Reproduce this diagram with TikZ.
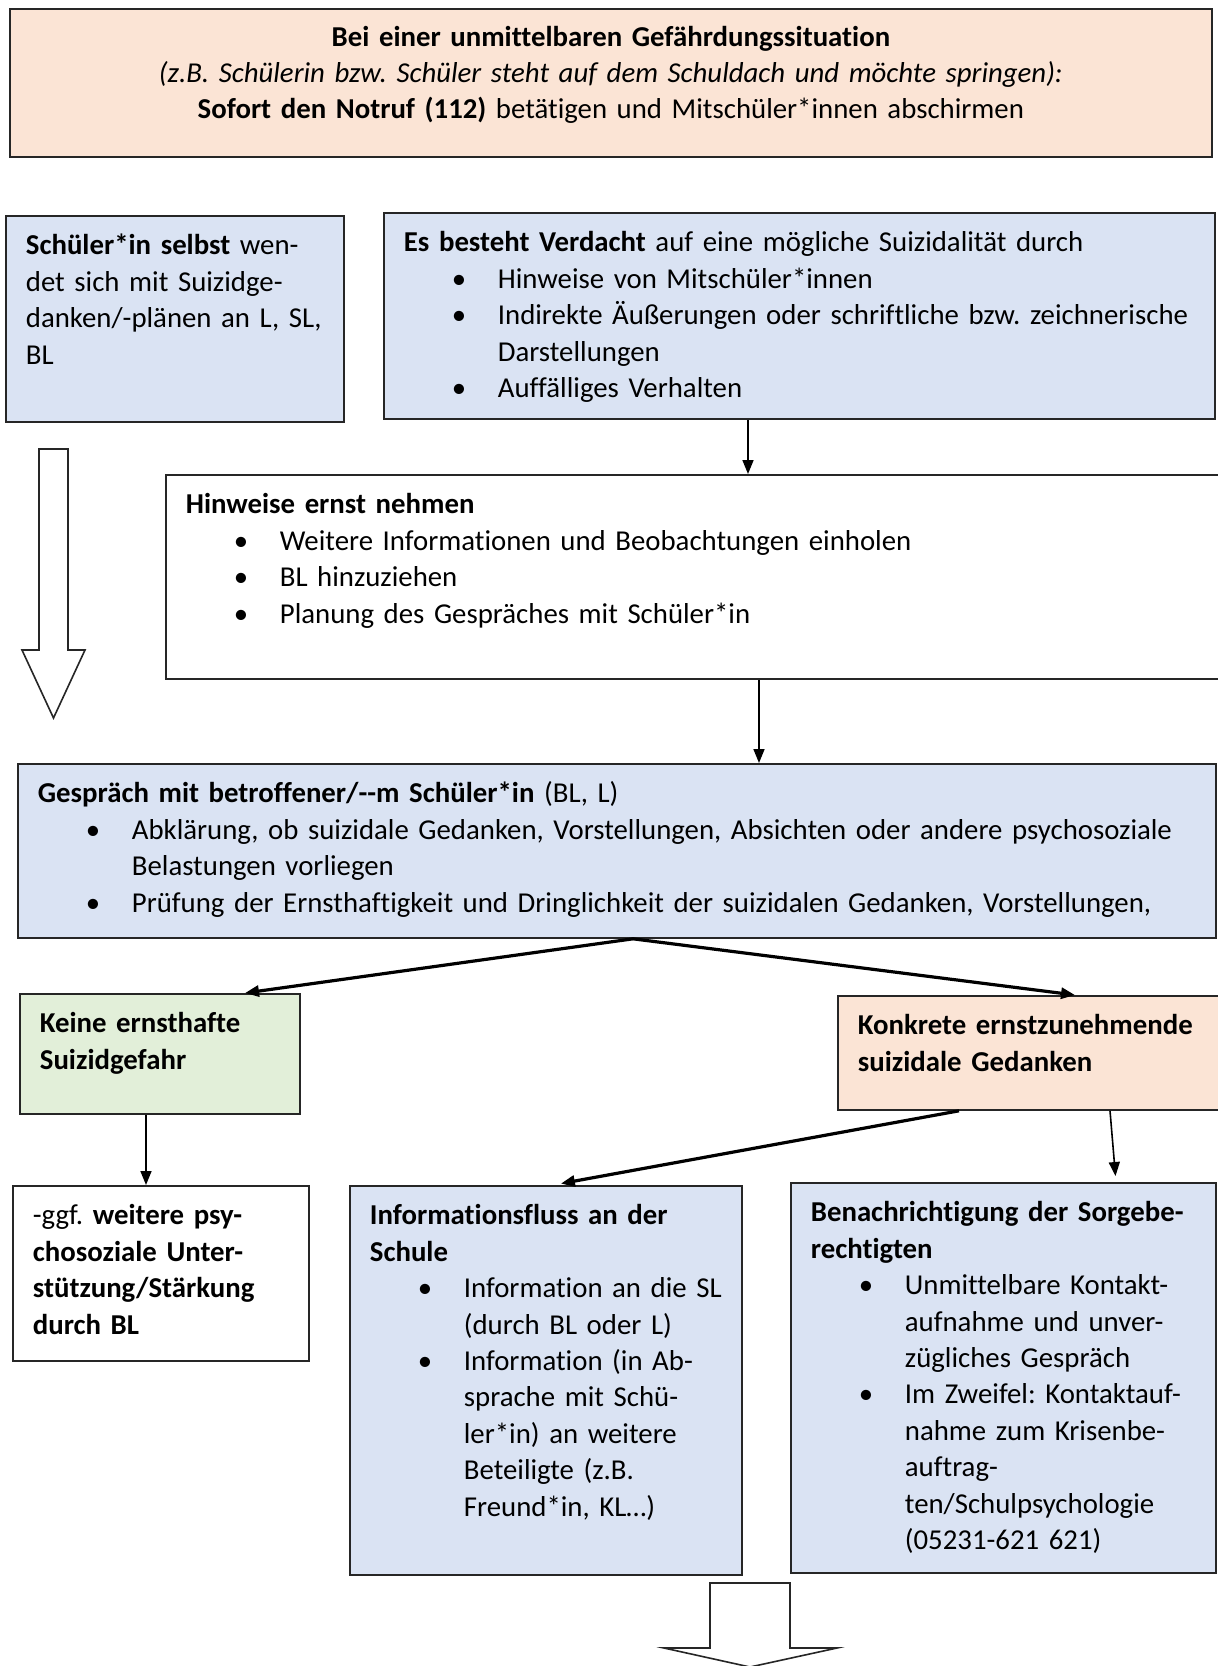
\documentclass[tikz,border=0pt]{standalone}
\usepackage{fontspec}
\setmainfont{Carlito}[Ligatures={TeX,NoCommon}]
\usetikzlibrary{arrows.meta,positioning}
\definecolor{rosa}{HTML}{FBE4D5}
\definecolor{hellblau}{HTML}{DAE3F3}
\definecolor{hellgruen}{HTML}{E2EFD9}
\frenchspacing
\newcommand{\punkt}{\par\hangindent=47pt\hangafter=1\noindent\hspace*{24pt}\makebox[23pt][l]{\textbullet}}
\tikzset{
    >={Triangle[length=7pt,width=5.5pt]},
    kasten/.style={
        rectangle,
        draw=black!85, line width=0.9pt,
        anchor=north west,
        inner xsep=10pt, inner ysep=0pt,
        text height=19.5pt,
        align=left,
        font=\fontsize{14.4}{18.2}\selectfont\frenchspacing
    },
    pfeil/.style={draw, ->, line width=0.8pt},
    dickpfeil/.style={draw, ->, line width=1.6pt},
    blockpfeil/.style={draw=black!85, line width=0.8pt, fill=white}
}
\begin{document}
\begin{tikzpicture}[x=0.5pt, y=-0.5pt]
\useasboundingbox (0,0) rectangle (1217,1666);
% obere Reihe
\node[kasten, fill=rosa, align=center, text width=581pt, text height=19pt, text depth=55pt,
      font=\fontsize{14.4}{17.8}\selectfont\frenchspacing] (notfall) at (9,8)
    {\textbf{Bei einer unmittelbaren Gefährdungssituation}\\
     \textit{(z.B. Schülerin bzw. Schüler steht auf dem Schuldach und möchte springen):}\\
     \textbf{Sofort den Notruf (112)} betätigen und Mitschüler*innen abschirmen};
\node[kasten, fill=hellblau, text width=149pt, text depth=83.5pt] (selbst) at (5,215)
    {\textbf{Schüler*in selbst} wen-\\det sich mit Suizidge-\\danken/-plänen an L, SL,\\BL};
\node[kasten, fill=hellblau, text width=395.5pt, text depth=83.5pt] (verdacht) at (383,212)
    {\textbf{Es besteht Verdacht} auf eine mögliche Suizidalität durch
     \punkt Hinweise von Mitschüler*innen
     \punkt Indirekte Äußerungen oder schriftliche bzw. zeichnerische\newline Darstellungen
     \punkt Auffälliges Verhalten\par};
% mitte
\node[kasten, fill=white, text width=510pt, text depth=82.5pt] (hinweise) at (165,474)
    {\textbf{Hinweise ernst nehmen}
     \punkt Weitere Informationen und Beobachtungen einholen
     \punkt BL hinzuziehen
     \punkt Planung des Gespräches mit Schüler*in\par};
\node[kasten, fill=hellblau, text width=579pt, text depth=67.5pt] (gespraech) at (17,763)
    {\textbf{Gespräch mit betroffener/-{}-m Schüler*in} (BL, L)
     \punkt Abklärung, ob suizidale Gedanken, Vorstellungen, Absichten oder andere psychosoziale\newline Belastungen vorliegen
     \punkt Prüfung der Ernsthaftigkeit und Dringlichkeit der suizidalen Gedanken, Vorstellungen,\par};
% verzweigung
\node[kasten, fill=hellgruen, text width=120pt, text depth=40.5pt] (keine) at (19,993)
    {\textbf{Keine ernsthafte\\Suizidgefahr}};
\node[kasten, fill=rosa, text width=174pt, text depth=37.5pt] (konkret) at (837,995)
    {\textbf{Konkrete ernstzunehmende\\suizidale Gedanken}};
% untere Reihe
\node[kasten, fill=white, text width=128pt, text depth=68pt] (weitere) at (12,1185)
    {-ggf. \textbf{weitere psy-\\chosoziale Unter-\\stützung/Stärkung\\durch BL}};
\node[kasten, fill=hellblau, text width=176pt, text depth=175pt] (info) at (349,1185)
    {\textbf{Informationsfluss an der\\Schule}
     \punkt Information an die SL\newline (durch BL oder L)
     \punkt Information (in Ab-\newline sprache mit Schü-\newline ler*in) an weitere\newline Beteiligte (z.B.\newline Freund*in, KL…)\par};
\node[kasten, fill=hellblau, text width=192.5pt, text depth=175.5pt] (benach) at (790,1182)
    {\textbf{Benachrichtigung der Sorgebe-\\rechtigten}
     \punkt Unmittelbare Kontakt-\newline aufnahme und unver-\newline zügliches Gespräch
     \punkt Im Zweifel: Kontaktauf-\newline nahme zum Krisenbe-\newline auftrag-\newline ten/Schulpsychologie\newline (05231-621 621)\par};
% pfeile
\draw[pfeil] (verdacht.south -| 748,0) -- (hinweise.north -| 748,0);
\draw[pfeil] (hinweise.south -| 759,0) -- (gespraech.north -| 759,0);
\draw[dickpfeil] (gespraech.south -| 633,0) -- (keine.north -| 245,0);
\draw[dickpfeil] (gespraech.south -| 633,0) -- (konkret.north -| 1075,0);
\draw[pfeil] (keine.south -| 146,0) -- (weitere.north -| 146,0);
\draw[dickpfeil, shorten >=4pt] (konkret.south -| 959,0) -- (info.north -| 553,0);
\draw[pfeil, shorten >=3pt] (konkret.south -| 1110,0) -- (benach.north -| 1116,0);
% blockpfeile
\draw[blockpfeil] (39,449) -- (68,449) -- (68,650) -- (85,650) -- (53.5,718)
    -- (22,650) -- (39,650) -- cycle;
\draw[blockpfeil] (710,1583) -- (790,1583) -- (790,1648) -- (837,1648) -- (750,1667)
    -- (664,1648) -- (710,1648) -- cycle;
\end{tikzpicture}
\end{document}
